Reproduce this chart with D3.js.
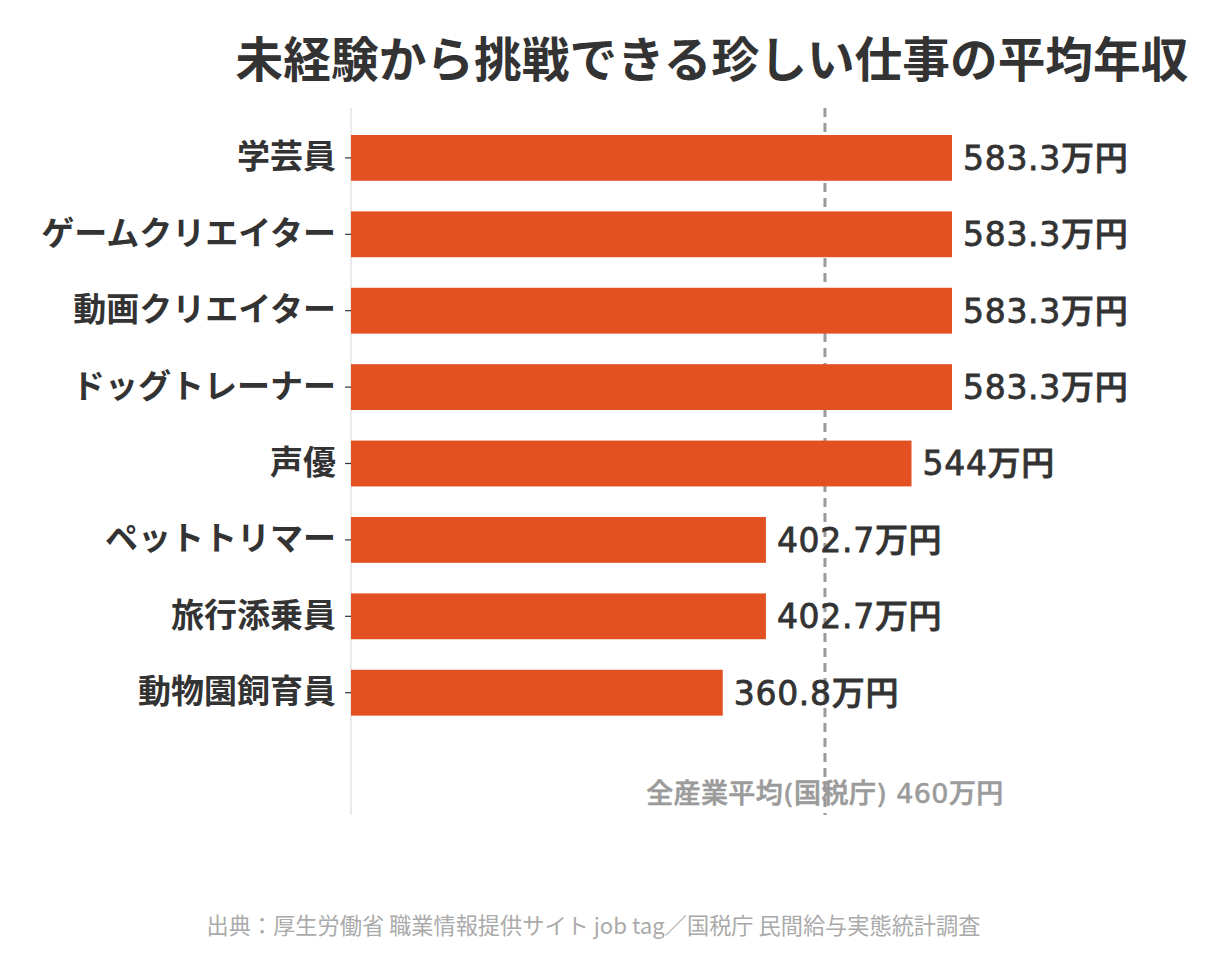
<!DOCTYPE html>
<html>
<head>
<meta charset="utf-8">
<script src="https://cdn.jsdelivr.net/npm/d3@7"></script>
<style>
  body { margin: 0; background: #fff; }
</style>
</head>
<body>
<div id="chart"></div>
<script>
var jobs = ["学芸員", "ゲームクリエイター", "動画クリエイター", "ドッグトレーナー", "声優", "ペットトリマー", "旅行添乗員", "動物園飼育員"];
var salaries = [583.3, 583.3, 583.3, 583.3, 544, 402.7, 402.7, 360.8];
var average = 460;
var averageLabel = "全産業平均(国税庁) 460万円";
var title = "未経験から挑戦できる珍しい仕事の平均年収";
var source = "出典：厚生労働省 職業情報提供サイト job tag／国税庁 民間給与実態統計調査";

var width = 1228, height = 976;
var plot_left = 351, plot_top = 108, plot_bottom = 815;
var cjk_font = "'Noto Sans CJK JP', sans-serif";
var num_font = "'DejaVu Sans', 'Noto Sans CJK JP', sans-serif";

var svg = d3.select("#chart").append("svg")
    .attr("width", width)
    .attr("height", height)
    .style("font-family", cjk_font);

var x = d3.scaleLinear()
    .domain([0, 583.3])
    .range([plot_left, 952]);

var y = d3.scaleBand()
    .domain(jobs)
    .range([104.4, 746.2])
    .paddingInner(0.4)
    .paddingOuter(0.4);

// title
svg.append("text")
    .attr("x", 712)
    .attr("y", 77)
    .attr("text-anchor", "middle")
    .attr("font-size", 47.7)
    .attr("font-weight", "bold")
    .attr("fill", "#333")
    .text(title);

// left axis line
svg.append("line")
    .attr("x1", plot_left).attr("x2", plot_left)
    .attr("y1", plot_top).attr("y2", plot_bottom)
    .attr("stroke", "#e3e3e3")
    .attr("stroke-width", 1.5);

// average line (behind bars)
svg.append("line")
    .attr("x1", x(average)).attr("x2", x(average))
    .attr("y1", plot_top).attr("y2", plot_bottom)
    .attr("stroke", "#9a9a9a")
    .attr("stroke-width", 3)
    .attr("stroke-dasharray", "9,6");

svg.append("g")
    .selectAll("rect")
    .data(salaries)
    .enter()
    .append("rect")
    .attr("x", x(0))
    .attr("y", function (d, i) { return y(jobs[i]); })
    .attr("width", function (d) { return x(d) - x(0); })
    .attr("height", y.bandwidth())
    .attr("fill", "#e35022");

// category axis
var yAxis = svg.append("g")
    .attr("transform", "translate(" + plot_left + ",0)")
    .call(d3.axisLeft(y).tickSize(6).tickPadding(9));
yAxis.attr("font-family", null);
yAxis.select(".domain").remove();
yAxis.selectAll(".tick line").attr("stroke", "#333").attr("stroke-width", 1.2);
yAxis.selectAll(".tick text")
    .attr("font-size", 33)
    .attr("font-weight", "bold")
    .attr("fill", "#333")
    .style("font-family", cjk_font);

// value labels
svg.append("g")
    .selectAll("text")
    .data(salaries)
    .enter()
    .append("text")
    .attr("x", function (d) { return x(d) + 11; })
    .attr("y", function (d, i) { return y(jobs[i]) + y.bandwidth() / 2; })
    .attr("dy", "0.36em")
    .style("font-family", num_font)
    .attr("font-size", 33)
    .attr("font-weight", 500)
    .attr("letter-spacing", 0.7)
    .attr("fill", "#333")
    .attr("stroke", "#333")
    .attr("stroke-width", 0.8)
    .text(function (d) { return d + "万円"; });

svg.append("text")
    .attr("x", x(average))
    .attr("y", 803)
    .attr("text-anchor", "middle")
    .style("font-family", num_font)
    .attr("font-size", 27)
    .attr("font-weight", 500)
    .attr("letter-spacing", 0.4)
    .attr("fill", "#9b9b9b")
    .attr("stroke", "#9b9b9b")
    .attr("stroke-width", 0.6)
    .text(averageLabel);

svg.append("text")
    .attr("x", 593.5)
    .attr("y", 934)
    .attr("text-anchor", "middle")
    .attr("font-size", 22.2)
    .attr("fill", "#aaa")
    .text(source);
</script>
</body>
</html>
